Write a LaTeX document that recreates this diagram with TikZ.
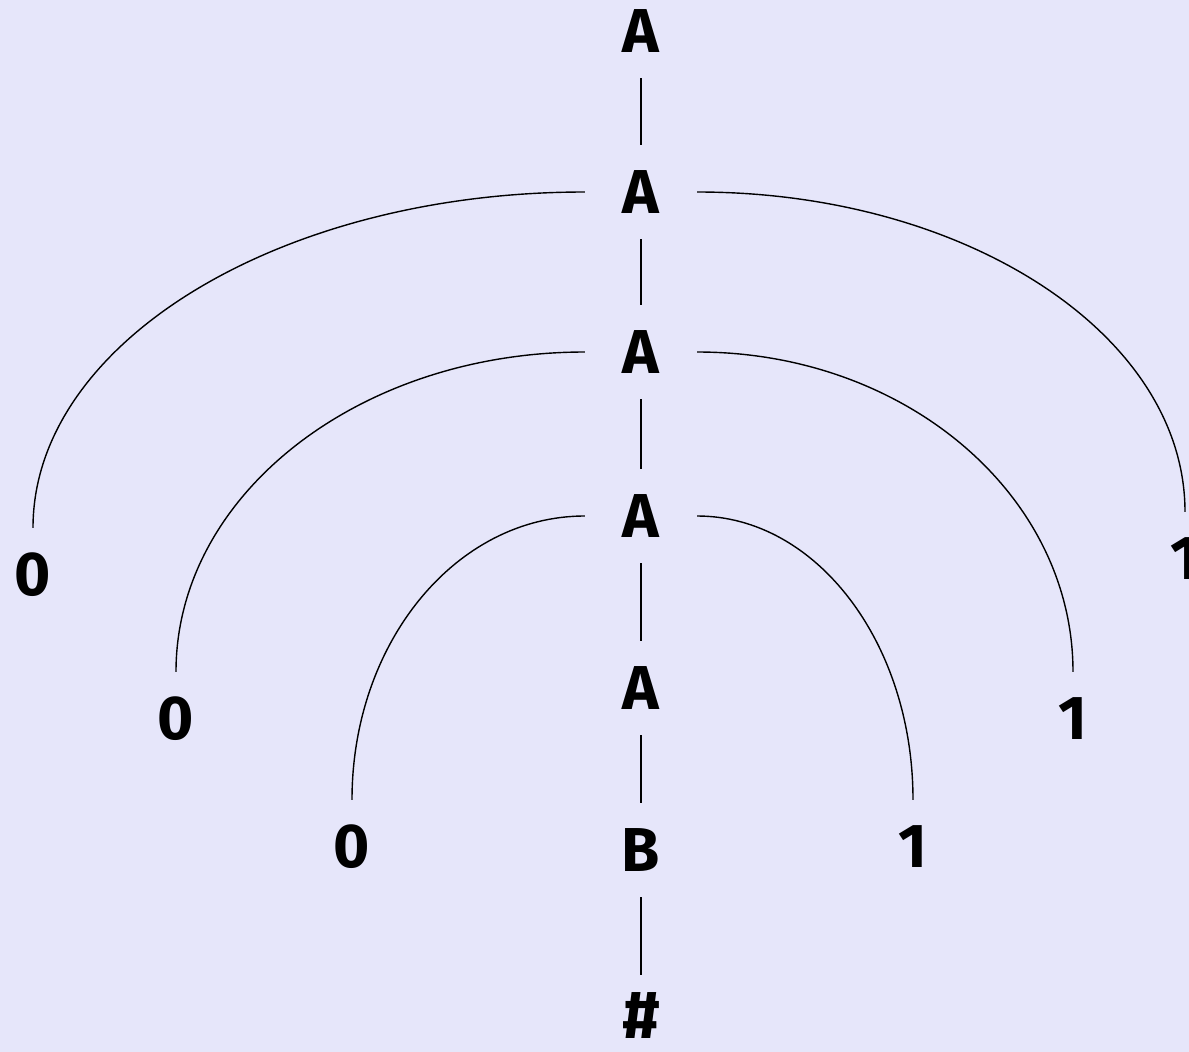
\documentclass[tikz,border=0pt]{standalone}
\usepackage{fontspec}
\setmainfont{Fira Sans}
\usetikzlibrary{shapes.geometric}
\definecolor{bgcol}{HTML}{E6E6FA}
\tikzset{
  sym/.style={ellipse, minimum width=112pt, minimum height=94pt, inner sep=0pt,
    font=\fontsize{62}{62}\selectfont\bfseries},
  link/.style={line width=1.4pt, black},
}
\begin{document}
\begin{tikzpicture}[x=1pt,y=-1pt]
\fill[bgcol] (0,0) rectangle (1189,1052);
\clip (0,0) rectangle (1189,1052);
\useasboundingbox (0,0) rectangle (1189,1052);
% spine
\node[sym] (a0) at (641,31) {A};
\node[sym] (a1) at (641,192) {A};
\node[sym] (a2) at (641,352) {A};
\node[sym] (a3) at (641,516) {A};
\node[sym] (a4) at (641,688) {A};
\node[sym] (b)  at (641,850) {B};
\node[sym] (h)  at (641,1022) {\raisebox{6pt}[\height][\depth]{\fontsize{68}{68}\selectfont\#}};
% leaves
\node[sym] (z1) at (33,575) {0};
\node[sym] (z2) at (176,719) {0};
\node[sym] (z3) at (352,847) {0};
\node[sym] (o1) at (1185,559) {1};
\node[sym] (o2) at (1073,719) {1};
\node[sym] (o3) at (913,847) {1};
% vertical links
\draw[link] (a0) -- (a1);
\draw[link] (a1) -- (a2);
\draw[link] (a2) -- (a3);
\draw[link] (a3) -- (a4);
\draw[link] (a4) -- (b);
\draw[link] (b) -- (h);
% arcs
\draw[link] (a1.west) .. controls +(-305,0) and +(0,-185) .. (z1.north);
\draw[link] (a1.east) .. controls +(269,0) and +(0,-177) .. (o1.north);
\draw[link] (a2.west) .. controls +(-226,0) and +(0,-177) .. (z2.north);
\draw[link] (a2.east) .. controls +(208,0) and +(0,-177) .. (o2.north);
\draw[link] (a3.west) .. controls +(-129,0) and +(0,-157) .. (z3.north);
\draw[link] (a3.east) .. controls +(119,0) and +(0,-157) .. (o3.north);
\end{tikzpicture}
\end{document}
